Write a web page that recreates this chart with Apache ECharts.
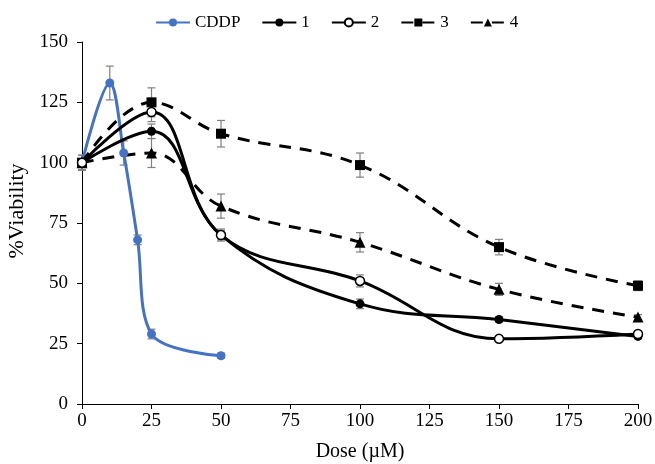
<!DOCTYPE html>
<html>
<head>
<meta charset="utf-8">
<script src="https://cdn.jsdelivr.net/npm/echarts@6/dist/echarts.min.js"></script>
<style>
  html, body { margin: 0; padding: 0; background: #fff; }
  #chart { width: 655px; height: 464px; }
</style>
</head>
<body>
<div id="chart"></div>
<script>
// doses (uM)
var cddpDose = [0, 10, 15, 20, 25, 50];
var cddpVal  = [100, 133, 104, 68, 29, 20];
var cddpErr  = [3, 7, 5, 2, 2, 1];

var dose = [0, 25, 50, 100, 150, 200];
var s1Val = [100, 113, 70, 41.5, 35, 28];
var s1Err = [3, 3, 2, 2, 1, 1];
var s2Val = [100, 121, 70, 51, 27, 29];
var s2Err = [3, 4, 2.5, 2.5, 1, 1];
var s3Val = [100, 125, 112, 99, 65, 49];
var s3Err = [3, 6, 5.5, 5, 3.2, 2];
var s4Val = [100, 104, 82, 67, 47.5, 36];
var s4Err = [3, 6, 5, 4, 2.5, 1];

var names = ['CDDP', '1', '2', '3', '4'];
var yTicks = [0, 25, 50, 75, 100, 125, 150];

function pairs(xs, ys) {
  return xs.map(function (x, i) { return [x, ys[i]]; });
}
function errData(xs, ys, es) {
  return xs.map(function (x, i) { return [x, ys[i] - es[i], ys[i] + es[i]]; });
}

function errSeries(xs, ys, es) {
  return {
    type: 'custom',
    silent: true,
    z: 1,
    data: errData(xs, ys, es),
    renderItem: function (params, api) {
      var lo = api.coord([api.value(0), api.value(1)]);
      var hi = api.coord([api.value(0), api.value(2)]);
      var w = 4;
      var st = { stroke: '#808080', lineWidth: 1.2 };
      return {
        type: 'group',
        children: [
          { type: 'line', shape: { x1: lo[0], y1: lo[1], x2: hi[0], y2: hi[1] }, style: st },
          { type: 'line', shape: { x1: lo[0] - w, y1: lo[1], x2: lo[0] + w, y2: lo[1] }, style: st },
          { type: 'line', shape: { x1: hi[0] - w, y1: hi[1], x2: hi[0] + w, y2: hi[1] }, style: st }
        ]
      };
    }
  };
}

var chart = echarts.init(document.getElementById('chart'));
var font = 'Liberation Serif';

var option = {
  animation: false,
  textStyle: { fontFamily: font },
  legend: {
    data: names,
    left: 150,
    top: 9,
    itemWidth: 34,
    itemHeight: 10,
    itemGap: 21,
    textStyle: { fontFamily: font, fontSize: 17, color: '#000' }
  },
  grid: { left: 82, right: 17, top: 42, bottom: 60, outerBoundsMode: 'none' },
  xAxis: {
    type: 'value',
    min: 0, max: 200, interval: 25,
    name: 'Dose (\u00b5M)',
    nameLocation: 'middle',
    nameGap: 38,
    nameTextStyle: { fontFamily: font, fontSize: 20, color: '#000' },
    axisLine: { lineStyle: { color: '#000', width: 1 } },
    axisTick: { show: true, length: 5, lineStyle: { color: '#000' } },
    axisLabel: { fontFamily: font, fontSize: 19, color: '#000', margin: 8 },
    splitLine: { show: false }
  },
  yAxis: {
    type: 'value',
    min: 0, max: 150, interval: 25,
    name: '%Viability',
    nameLocation: 'middle',
    nameGap: 30,
    nameTextStyle: { fontFamily: font, fontSize: 22, color: '#000', padding: [0, 0, 0, 24] },
    axisLine: { show: true, lineStyle: { color: '#000', width: 1 } },
    axisTick: { show: true, length: 5, lineStyle: { color: '#000' } },
    axisLabel: {
      fontFamily: font, fontSize: 19, color: '#000', margin: 14,
      formatter: function (v) { return yTicks.indexOf(v) >= 0 ? String(v) : ''; }
    },
    splitLine: { show: false }
  },
  series: [
    {
      name: 'CDDP', type: 'line', smooth: 0.35, z: 3,
      data: pairs(cddpDose, cddpVal),
      symbol: 'circle', symbolSize: 9,
      itemStyle: { color: '#4472c4' },
      lineStyle: { color: '#4472c4', width: 3 }
    },
    {
      name: '1', type: 'line', smooth: 0.4, z: 3,
      data: pairs(dose, s1Val),
      symbol: 'circle', symbolSize: 9,
      itemStyle: { color: '#000' },
      lineStyle: { color: '#000', width: 3 }
    },
    {
      name: '2', type: 'line', smooth: 0.4, z: 4,
      data: pairs(dose, s2Val),
      symbol: 'circle', symbolSize: 9,
      itemStyle: { color: '#fff', borderColor: '#000', borderWidth: 1.5 },
      lineStyle: { color: '#000', width: 3 }
    },
    {
      name: '3', type: 'line', smooth: 0.4, z: 3,
      data: pairs(dose, s3Val),
      symbol: 'rect', symbolSize: 10,
      itemStyle: { color: '#000' },
      lineStyle: { color: '#000', width: 3, type: [12, 9] }
    },
    {
      name: '4', type: 'line', smooth: 0.4, z: 3,
      data: pairs(dose, s4Val),
      symbol: 'triangle', symbolSize: 11,
      itemStyle: { color: '#000' },
      lineStyle: { color: '#000', width: 3, type: [12, 9] }
    },
    errSeries(cddpDose, cddpVal, cddpErr),
    errSeries(dose, s1Val, s1Err),
    errSeries(dose, s2Val, s2Err),
    errSeries(dose, s3Val, s3Err),
    errSeries(dose, s4Val, s4Err)
  ]
};

chart.setOption(option);
</script>
</body>
</html>
